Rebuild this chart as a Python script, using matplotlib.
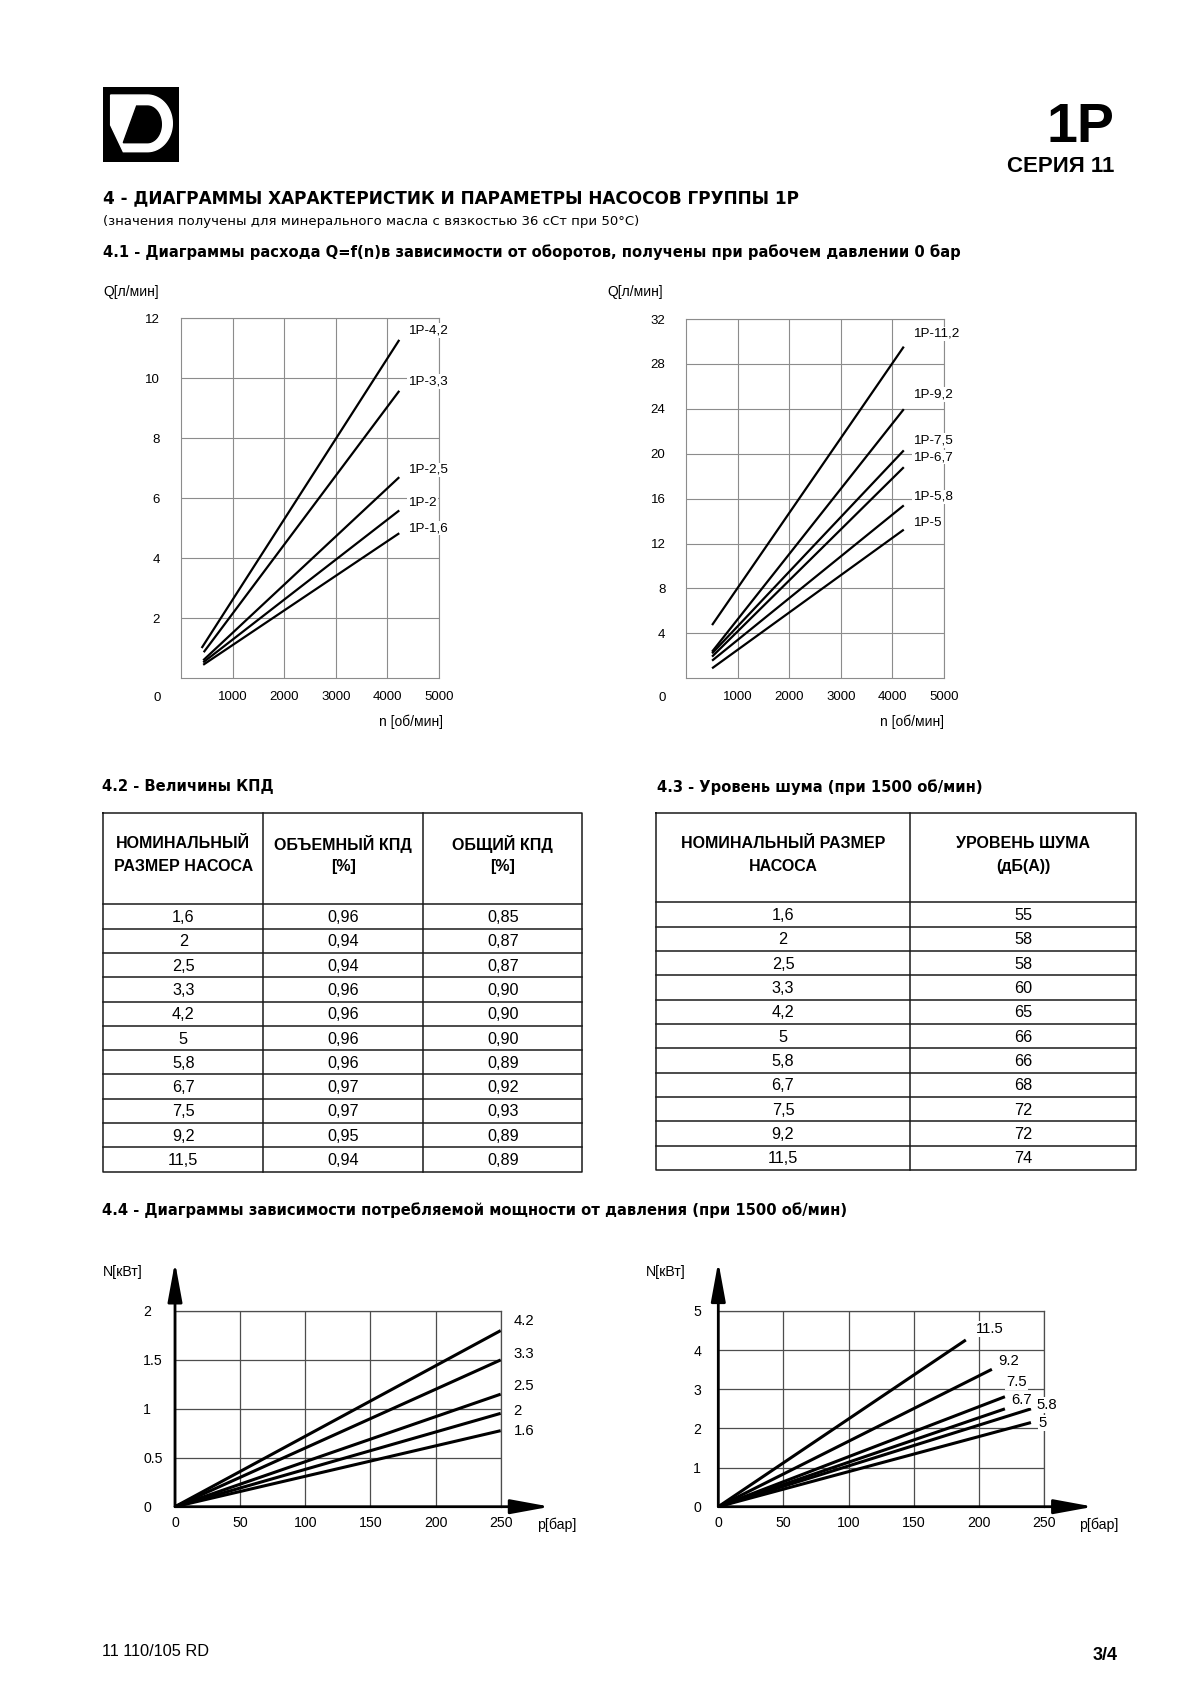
import numpy as np
import matplotlib
matplotlib.use('Agg')
import matplotlib.pyplot as plt
from matplotlib.patches import Rectangle, Polygon

W, H = 1200, 1698
plt.rcParams['font.family'] = ['Liberation Sans', 'DejaVu Sans']
HEAD = ['DejaVu Sans', 'Liberation Sans']

# 4.1 - flow Q vs speed n, small pumps
small_labels = ['1P-4,2', '1P-3,3', '1P-2,5', '1P-2', '1P-1,6']
small_n = [[400, 4230], [440, 4230], [430, 4230], [430, 4230], [430, 4230]]
small_q = [[1.0, 11.28], [0.86, 9.58], [0.59, 6.70], [0.52, 5.59], [0.44, 4.83]]
small_lab_y = [11.6, 9.9, 6.94, 5.83, 5.0]

# 4.1 - flow Q vs speed n, big pumps
big_labels = ['1P-11,2', '1P-9,2', '1P-7,5', '1P-6,7', '1P-5,8', '1P-5']
big_n = [[500, 4220]] * 6
big_q = [[4.74, 29.54], [2.37, 23.97], [2.22, 20.3], [1.93, 18.8], [1.57, 15.4], [0.89, 13.24]]
big_lab_y = [30.67, 25.27, 21.2, 19.7, 16.15, 13.87]

# 4.2 / 4.3 tables
sizes = ['1,6', '2', '2,5', '3,3', '4,2', '5', '5,8', '6,7', '7,5', '9,2', '11,5']
vol_eff = [0.96, 0.94, 0.94, 0.96, 0.96, 0.96, 0.96, 0.97, 0.97, 0.95, 0.94]
tot_eff = [0.85, 0.87, 0.87, 0.90, 0.90, 0.90, 0.89, 0.92, 0.93, 0.89, 0.89]
noise = [55, 58, 58, 60, 65, 66, 66, 68, 72, 72, 74]

# 4.4 - power N vs pressure p
pw_small_labels = ['4.2', '3.3', '2.5', '2', '1.6']
pw_small_p = [250, 250, 250, 250, 250]
pw_small_n = [1.80, 1.50, 1.15, 0.954, 0.777]
pw_small_lab = [(260, 1.90), (260, 1.56), (260, 1.23), (260, 0.98), (260, 0.77)]

pw_big_labels = ['11.5', '9.2', '7.5', '6.7', '5.8', '5']
pw_big_p = [190, 210, 220, 220, 240, 240]
pw_big_n = [4.26, 3.51, 2.81, 2.50, 2.50, 2.15]
pw_big_lab = [(198, 4.53), (215, 3.73), (221, 3.18), (225, 2.73), (244, 2.61), (246, 2.15)]


def px_rect(x0, y0, x1, y1):
    return [x0 / W, 1 - y1 / H, (x1 - x0) / W, (y1 - y0) / H]


def ftext(x, y, s, **kw):
    return fig.text(x / W, 1 - y / H, s, **kw)


def comma(v):
    return f'{v:.2f}'.replace('.', ',')


fig = plt.figure(figsize=(12, 16.98), dpi=100)

# logo
lg = fig.add_axes(px_rect(103.3, 86.7, 179.3, 161.7))
lg.set_xlim(40, 268)
lg.set_ylim(245, 20)
lg.axis('off')
lg.add_patch(Rectangle((40, 20), 228, 225, color='black'))
t = np.linspace(-np.pi / 2, np.pi / 2, 60)
outer = [(62, 45)] + list(zip(172 + 75 * np.cos(t), 130 + 85 * np.sin(t))) + [(100, 215), (62, 135)]
lg.add_patch(Polygon(outer, closed=True, color='white'))
inner = [(140, 78)] + list(zip(172 + 42 * np.cos(t), 133 + 55 * np.sin(t))) + [(100, 188)]
lg.add_patch(Polygon(inner, closed=True, color='black'))

ftext(1114, 142, '1P', fontsize=40, fontweight='bold', ha='right', va='baseline')
ftext(1114, 172, 'СЕРИЯ 11', fontsize=16, fontweight='bold', ha='right', va='baseline')

ftext(103, 198, '4 - ДИАГРАММЫ ХАРАКТЕРИСТИК И ПАРАМЕТРЫ НАСОСОВ ГРУППЫ 1P',
      fontsize=12.2, fontweight='bold', family=HEAD, va='center')
ftext(103, 221.7, '(значения получены для минерального масла с вязкостью 36 сСт при 50°С)',
      fontsize=9.5, family=HEAD, va='center')
ftext(103, 252, '4.1 - Диаграммы расхода Q=f(n)в зависимости от оборотов, получены при рабочем давлении 0 бар',
      fontsize=10.65, fontweight='bold', family=HEAD, va='center')


def flow_chart(rect, ymax, ystep, ns, qs, labels, lab_y):
    ax = fig.add_axes(rect)
    for n, q in zip(ns, qs):
        ax.plot(n, q, color='black', lw=1.6, solid_capstyle='butt')
    ax.set_xlim(0, 5000)
    ax.set_ylim(0, ymax)
    ax.set_xticks(range(1000, 5001, 1000))
    ax.set_yticks(np.arange(ystep, ymax + 1, ystep))
    ax.grid(True, color='#8c8c8c', lw=0.8)
    ax.set_axisbelow(True)
    for s in ax.spines.values():
        s.set_color('#8c8c8c')
        s.set_linewidth(0.8)
    ax.tick_params(length=0, labelsize=9.5)
    ax.tick_params(axis='y', pad=15)
    ax.tick_params(axis='x', pad=9.5)
    for lab, y in zip(labels, lab_y):
        ax.text(4400, y, lab, fontsize=9.7, ha='left', va='center',
                bbox=dict(fc='white', ec='none', pad=1))
    ax.annotate('0', (0, 0), xytext=(-17.5, -14.4), textcoords='offset points',
                ha='center', va='center', fontsize=9.5, annotation_clip=False)
    return ax


a1 = flow_chart(px_rect(181, 318.3, 439, 678), 12, 2, small_n, small_q, small_labels, small_lab_y)
a2 = flow_chart(px_rect(686.3, 319, 944, 678.3), 32, 4, big_n, big_q, big_labels, big_lab_y)
for x_q, x_n in [(103, 443), (607, 944)]:
    ftext(x_q, 292, 'Q[л/мин]', fontsize=10, va='center')
    ftext(x_n, 722, 'n [об/мин]', fontsize=10, va='center', ha='right')

# tables
ftext(102, 786.7, '4.2 - Величины КПД', fontsize=10.6, fontweight='bold', family=HEAD, va='center')
ftext(657, 787, '4.3 - Уровень шума (при 1500 об/мин)', fontsize=10.6, fontweight='bold',
      family=HEAD, va='center')


def draw_table(x0, y0, x1, y1, head_h, cols, headers, columns):
    ax = fig.add_axes(px_rect(x0, y0, x1, y1))
    w, h = x1 - x0, y1 - y0
    ax.set_xlim(0, w)
    ax.set_ylim(h, 0)
    ax.axis('off')
    nrows = len(columns[0])
    row_h = (h - head_h) / nrows
    kw = dict(color='#1a1a1a', lw=1.1, clip_on=False, solid_capstyle='projecting')
    ax.plot([0, w, w, 0, 0], [0, 0, h, h, 0], **kw)
    for c in cols[1:-1]:
        ax.plot([c, c], [0, h], **kw)
    for i in range(nrows):
        yy = head_h + i * row_h
        ax.plot([0, w], [yy, yy], **kw)
    for j, (hdr, col) in enumerate(zip(headers, columns)):
        cx = (cols[j] + cols[j + 1]) / 2
        for k, line in enumerate(hdr):
            ax.text(cx, 31.3 + k * 22.7, line, ha='center', va='center',
                    fontsize=11.5, fontweight='bold')
        for i, v in enumerate(col):
            ax.text(cx, head_h + (i + 0.5) * row_h + 1, v, ha='center', va='center', fontsize=11.7)


draw_table(103.3, 812.7, 582.3, 1171.7, 91.6, [0, 160, 320, 479],
           [['НОМИНАЛЬНЫЙ', 'РАЗМЕР НАСОСА'], ['ОБЪЕМНЫЙ КПД', '[%]'], ['ОБЩИЙ КПД', '[%]']],
           [sizes, [comma(v) for v in vol_eff], [comma(v) for v in tot_eff]])
draw_table(656, 812.7, 1136, 1170, 89.6, [0, 254, 480],
           [['НОМИНАЛЬНЫЙ РАЗМЕР', 'НАСОСА'], ['УРОВЕНЬ ШУМА', '(дБ(А))']],
           [sizes, [str(v) for v in noise]])

ftext(102, 1210, '4.4 - Диаграммы зависимости потребляемой мощности от давления (при 1500 об/мин)',
      fontsize=10.65, fontweight='bold', family=HEAD, va='center')


def power_chart(rect, yticks, ytip, ps, nvals, labels, lab_xy, ypad, white):
    ax = fig.add_axes(rect)
    for p, n in zip(ps, nvals):
        ax.plot([0, p], [0, n], color='black', lw=2.2, solid_capstyle='butt')
    ax.set_xlim(0, 250)
    ax.set_ylim(0, yticks[-1])
    ax.set_xticks(range(0, 251, 50))
    ax.set_yticks(yticks, labels=[f'{v:g}' for v in yticks])
    ax.grid(True, color='#4d4d4d', lw=0.9)
    ax.set_axisbelow(True)
    ax.spines['left'].set_visible(False)
    ax.spines['bottom'].set_visible(False)
    for s in ('top', 'right'):
        ax.spines[s].set_color('#4d4d4d')
        ax.spines[s].set_linewidth(0.9)
    ax.tick_params(length=0, labelsize=10.2)
    ax.tick_params(axis='x', pad=7)
    ax.tick_params(axis='y', pad=ypad)
    for tl in ax.get_yticklabels():
        tl.set_ha('left')
    arrow = dict(arrowstyle='-|>,head_length=1.2,head_width=0.22', lw=2, color='black',
                 shrinkA=0, shrinkB=0, mutation_scale=20)
    ax.annotate('', xy=(288, 0), xytext=(0, 0), arrowprops=arrow, annotation_clip=False)
    ax.annotate('', xy=(0, ytip), xytext=(0, 0), arrowprops=arrow, annotation_clip=False)
    for lab, (x, y) in zip(labels, lab_xy):
        kw = dict(bbox=dict(fc='white', ec='none', pad=0.8)) if white else {}
        ax.text(x, y, lab, fontsize=10.7, ha='left', va='center', **kw)
    return ax


power_chart(px_rect(175, 1311, 500.7, 1506.7), [0, 0.5, 1, 1.5, 2], 2.5,
            pw_small_p, pw_small_n, pw_small_labels, pw_small_lab, 22.8, False)
power_chart(px_rect(718.3, 1311, 1044, 1506.7), [0, 1, 2, 3, 4, 5], 6.26,
            pw_big_p, pw_big_n, pw_big_labels, pw_big_lab, 18, True)
for x_n, x_p in [(103.3, 536.7), (646, 1079)]:
    ftext(x_n, 1272, 'N[кВт]', fontsize=10.2, va='center')
    ftext(x_p, 1524.3, 'p[бар]', fontsize=10.2, va='center')

ftext(102.5, 1652, '11 110/105 RD', fontsize=11.8, va='center')
ftext(1118, 1656, '3/4', fontsize=13, fontweight='bold', ha='right', va='center')

fig.savefig('out.png', dpi=100)
